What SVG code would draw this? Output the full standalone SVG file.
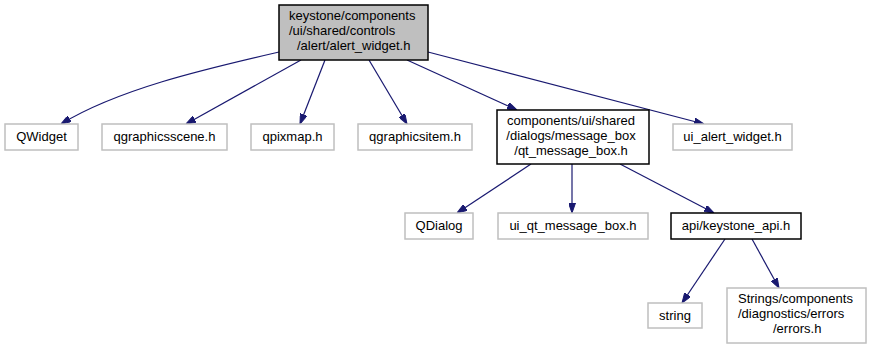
<svg xmlns="http://www.w3.org/2000/svg" width="871" height="349" viewBox="0 0 871 349">
<style>
text{font-family:"Liberation Sans",Arial,sans-serif;font-size:13px;fill:#000}
.c{text-anchor:middle}
.g rect{fill:#fff;stroke:#bfbfbf;stroke-width:1.5}
.b rect{fill:#fff;stroke:#000;stroke-width:1.5}
.r rect{fill:#bfbfbf;stroke:#000;stroke-width:1.5}
.e path{fill:none;stroke:#191970;stroke-width:1.2}
</style>
<defs>
<marker id="a" viewBox="0 0 10 7" refX="10" refY="3.5" markerWidth="10" markerHeight="7" orient="auto" markerUnits="userSpaceOnUse">
<path d="M0,0 L10,3.5 L0,7 z" fill="#191970" stroke="#191970"/>
</marker>
</defs>
<rect width="871" height="349" fill="#fff"/>
<g class="e" marker-end="url(#a)">
<path d="M279,52 C210,68 120,88 61,124" marker-end="url(#a)"/>
<path d="M301,60 L186,124" marker-end="url(#a)"/>
<path d="M325,60 L300,124" marker-end="url(#a)"/>
<path d="M369,60 L407,124" marker-end="url(#a)"/>
<path d="M407,60 L517,110" marker-end="url(#a)"/>
<path d="M428,52 L704,124" marker-end="url(#a)"/>
<path d="M531,164 L457,213" marker-end="url(#a)"/>
<path d="M572,164 L572,213" marker-end="url(#a)"/>
<path d="M620,164 L714,213" marker-end="url(#a)"/>
<path d="M725,239 L682,303" marker-end="url(#a)"/>
<path d="M752,239 L779,288" marker-end="url(#a)"/>
</g>
<g id="root" class="r"><rect x="279" y="5" width="149" height="55"/>
<text x="289" y="20">keystone/components</text><text x="289" y="35">/ui/shared/controls</text><text x="297" y="50">/alert/alert_widget.h</text></g>
<g id="qwidget" class="g"><rect x="5" y="124" width="73" height="26"/><text class="c" x="41.5" y="141">QWidget</text></g>
<g id="qgraphicsscene" class="g"><rect x="102" y="124" width="125" height="26"/><text class="c" x="164.5" y="141">qgraphicsscene.h</text></g>
<g id="qpixmap" class="g"><rect x="251" y="124" width="83" height="26"/><text class="c" x="292.5" y="141">qpixmap.h</text></g>
<g id="qgraphicsitem" class="g"><rect x="358" y="124" width="114" height="26"/><text class="c" x="415" y="141">qgraphicsitem.h</text></g>
<g id="qtmsgbox" class="b"><rect x="497" y="110" width="152" height="54"/>
<text class="c" x="571" y="125">components/ui/shared</text><text class="c" x="571" y="140">/dialogs/message_box</text><text class="c" x="571" y="155">/qt_message_box.h</text></g>
<g id="uialert" class="g"><rect x="673" y="124" width="119" height="26"/><text class="c" x="732.5" y="141">ui_alert_widget.h</text></g>
<g id="qdialog" class="g"><rect x="405" y="213" width="68" height="26"/><text class="c" x="439" y="230">QDialog</text></g>
<g id="uiqtmsg" class="g"><rect x="498" y="213" width="150" height="26"/><text class="c" x="573" y="230">ui_qt_message_box.h</text></g>
<g id="api" class="b"><rect x="671" y="213" width="130" height="26"/><text class="c" x="736" y="230">api/keystone_api.h</text></g>
<g id="string" class="g"><rect x="648" y="303" width="54" height="25"/><text class="c" x="675" y="320">string</text></g>
<g id="errors" class="g"><rect x="727" y="288" width="139" height="55"/>
<text x="738" y="303">Strings/components</text><text x="738" y="318">/diagnostics/errors</text><text x="773" y="333">/errors.h</text></g>
</svg>
